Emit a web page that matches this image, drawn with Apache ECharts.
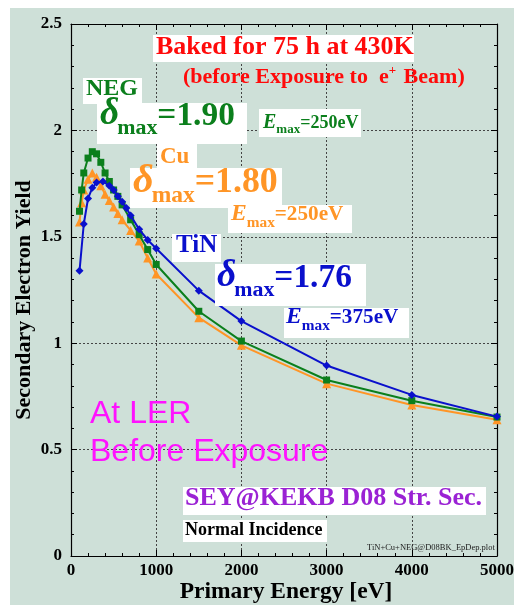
<!DOCTYPE html>
<html>
<head>
<meta charset="utf-8">
<script src="https://cdn.jsdelivr.net/npm/echarts@6/dist/echarts.min.js"></script>
<style>
  html, body { margin: 0; padding: 0; background: #ffffff; }
  #chart { width: 514px; height: 605px; }
</style>
</head>
<body>
<div id="chart"></div>
<script>
// Secondary electron yield vs. primary energy, three wall coatings (normal incidence)
const negEnergy = [100, 125, 150, 200, 250, 300, 350, 400, 450, 500, 550, 600, 700, 800, 900, 1000, 1500, 2000, 3000, 4000, 5000];
const negYield  = [1.62, 1.72, 1.80, 1.87, 1.90, 1.89, 1.85, 1.80, 1.76, 1.72, 1.69, 1.65, 1.58, 1.51, 1.44, 1.37, 1.15, 1.01, 0.827, 0.73, 0.653];

const cuEnergy = [100, 125, 150, 200, 250, 300, 350, 400, 450, 500, 550, 600, 700, 800, 900, 1000, 1500, 2000, 3000, 4000, 5000];
const cuYield  = [1.57, 1.66, 1.72, 1.77, 1.80, 1.78, 1.74, 1.70, 1.67, 1.64, 1.61, 1.58, 1.53, 1.48, 1.40, 1.325, 1.12, 0.99, 0.81, 0.71, 0.64];

const tinEnergy = [100, 150, 200, 250, 300, 375, 450, 500, 550, 600, 650, 700, 800, 900, 1000, 1500, 2000, 3000, 4000, 5000];
const tinYield  = [1.34, 1.56, 1.68, 1.73, 1.755, 1.76, 1.74, 1.72, 1.69, 1.665, 1.635, 1.60, 1.535, 1.485, 1.445, 1.247, 1.104, 0.895, 0.757, 0.655];

const xTicks = [0, 1000, 2000, 3000, 4000, 5000];
const yTicks = [0, 0.5, 1, 1.5, 2, 2.5];

const GREEN = '#0b7f1c', ORANGE = '#ff9526', BLUE = '#0a10cc';
const SERIF = '"Liberation Serif", "DejaVu Serif", serif';

const pairs = (xs, ys) => xs.map((x, i) => [x, ys[i]]);

// text runs laid out left to right on a shared baseline
const meas = document.createElement('canvas').getContext('2d');
function runs(x, base, parts) {
  let cx = x;
  const out = [];
  parts.forEach(p => {
    const font = p.font;
    meas.font = font;
    const size = parseFloat(font.match(/(\d+(\.\d+)?)px/)[1]);
    out.push({
      type: 'text', z: 100, silent: true,
      x: cx, y: base + (p.dy || 0) - size * 0.33,
      style: { text: p.t, font: font, fill: p.fill, verticalAlign: 'middle', align: 'left' }
    });
    cx += meas.measureText(p.t).width + (p.gap || 0);
  });
  return out;
}
function box(x1, y1, x2, y2) {
  return { type: 'rect', z: 90, silent: true, shape: { x: x1, y: y1, width: x2 - x1, height: y2 - y1 }, style: { fill: '#ffffff' } };
}
function deltaMax(x, base, value, color, s) {
  return runs(x, base, [
    { t: 'δ', font: 'italic bold ' + (36 * s).toFixed(1) + 'px ' + SERIF, fill: color, gap: -2 },
    { t: 'max', font: 'bold ' + (21 * s).toFixed(1) + 'px ' + SERIF, fill: color, dy: 8 * s },
    { t: '=' + value, font: 'bold ' + (32 * s).toFixed(1) + 'px ' + SERIF, fill: color }
  ]);
}
function eMax(x, base, value, color, s) {
  return runs(x, base, [
    { t: 'E', font: 'italic bold ' + (20 * s).toFixed(1) + 'px ' + SERIF, fill: color },
    { t: 'max', font: 'bold ' + (13 * s).toFixed(1) + 'px ' + SERIF, fill: color, dy: 5 * s },
    { t: '=' + value, font: 'bold ' + (18 * s).toFixed(1) + 'px ' + SERIF, fill: color }
  ]);
}

const graphics = [
  // page background
  { type: 'rect', z: -10, silent: true, shape: { x: 10, y: 8, width: 504, height: 597 }, style: { fill: '#cee0d8' } },

  box(153, 35, 414, 62),
  ...runs(156, 56, [{ t: 'Baked for 75 h at 430K', font: 'bold 26px ' + SERIF, fill: '#ff0a0a' }]),
  ...runs(183, 85, [
    { t: '(before Exposure to  e', font: 'bold 22px ' + SERIF, fill: '#ff0a0a' },
    { t: '+', font: 'bold 13px ' + SERIF, fill: '#ff0a0a', dy: -10, gap: 2 },
    { t: ' Beam)', font: 'bold 22px ' + SERIF, fill: '#ff0a0a' }
  ]),

  box(83, 78, 142, 104),
  ...runs(86, 97, [{ t: 'NEG', font: 'bold 24px ' + SERIF, fill: GREEN }]),
  box(97, 103, 247, 144),
  ...deltaMax(100, 127, '1.90', GREEN, 1.045),
  box(259, 109, 361, 137),
  ...eMax(263, 129, '250eV', GREEN, 1),

  box(157, 143, 197, 168),
  ...runs(160, 165, [{ t: 'Cu', font: 'bold 23px ' + SERIF, fill: ORANGE }]),
  box(130, 168, 282, 208),
  ...deltaMax(133, 195, '1.80', ORANGE, 1.12),
  box(228, 205, 352, 233),
  ...eMax(231, 222, '250eV', ORANGE, 1.18),

  box(172, 234, 221, 262),
  ...runs(176, 254, [{ t: 'TiN', font: 'bold 25px ' + SERIF, fill: BLUE }]),
  box(215, 264, 366, 306),
  ...deltaMax(217, 289, '1.76', BLUE, 1.045),
  box(284, 308, 409, 338),
  ...eMax(286, 325, '375eV', BLUE, 1.18),

  ...runs(90, 425, [{ t: 'At LER', font: '32px "Liberation Sans", Arial, sans-serif', fill: '#ff12ff' }]),
  ...runs(90, 463, [{ t: 'Before Exposure', font: '32px "Liberation Sans", Arial, sans-serif', fill: '#ff12ff' }]),

  box(183, 487, 486, 515),
  ...runs(185, 507, [{ t: 'SEY@KEKB D08 Str. Sec.', font: 'bold 26px ' + SERIF, fill: '#9a22d4' }]),
  box(183, 520, 327, 542),
  ...runs(185, 536, [{ t: 'Normal Incidence', font: 'bold 18px ' + SERIF, fill: '#000000' }]),
  ...runs(367, 551, [{ t: 'TiN+Cu+NEG@D08BK_EpDep.plot', font: '8.5px ' + SERIF, fill: '#222222' }]),

  // axis titles
  {
    type: 'text', z: 100, silent: true, x: 286, y: 600 - 23.5 * 0.33,
    style: { text: 'Primary Energy [eV]', font: 'bold 23.5px ' + SERIF, fill: '#000', align: 'center', verticalAlign: 'middle' }
  },
  {
    type: 'text', z: 100, silent: true, x: 24, y: 300, rotation: Math.PI / 2,
    style: { text: 'Secondary Electron Yield', font: 'bold 22px ' + SERIF, fill: '#000', align: 'center', verticalAlign: 'middle' }
  }
];

const tickLabel = { fontFamily: SERIF, fontWeight: 'bold', fontSize: 17, color: '#000', formatter: v => String(v) };
const axisLine = { show: true, onZero: false, lineStyle: { color: '#000', width: 1.2 } };
const splitLine = { show: true, lineStyle: { color: '#444', type: [2, 2], width: 1 } };

const chart = echarts.init(document.getElementById('chart'), null, { renderer: 'canvas' });
chart.setOption({
  animation: false,
  backgroundColor: 'transparent',
  grid: { left: 71, top: 24, right: 17, bottom: 49, outerBoundsMode: 'none' },
  xAxis: [
    {
      type: 'value', min: xTicks[0], max: xTicks[xTicks.length - 1], interval: 1000,
      axisLine, splitLine,
      axisTick: { inside: true, length: 6, lineStyle: { color: '#000' } },
      minorTick: { show: true, splitNumber: 5, length: 3, lineStyle: { color: '#000' } },
      axisLabel: { ...tickLabel, margin: 6 }
    },
    {
      type: 'value', position: 'top', min: 0, max: 5000, interval: 1000,
      axisLine, splitLine: { show: false },
      axisTick: { inside: true, length: 6, lineStyle: { color: '#000' } },
      minorTick: { show: true, splitNumber: 5, length: 3, lineStyle: { color: '#000' } },
      axisLabel: { show: false }
    }
  ],
  yAxis: [
    {
      type: 'value', min: yTicks[0], max: yTicks[yTicks.length - 1], interval: 0.5,
      axisLine, splitLine,
      axisTick: { inside: true, length: 6, lineStyle: { color: '#000' } },
      minorTick: { show: true, splitNumber: 5, length: 3, lineStyle: { color: '#000' } },
      axisLabel: { ...tickLabel, margin: 9 }
    },
    {
      type: 'value', position: 'right', min: 0, max: 2.5, interval: 0.5,
      axisLine, splitLine: { show: false },
      axisTick: { inside: true, length: 6, lineStyle: { color: '#000' } },
      minorTick: { show: true, splitNumber: 5, length: 3, lineStyle: { color: '#000' } },
      axisLabel: { show: false }
    }
  ],
  series: [
    {
      name: 'Cu', type: 'line', data: pairs(cuEnergy, cuYield), z: 3,
      symbol: 'triangle', symbolSize: 9, showAllSymbol: true,
      lineStyle: { color: ORANGE, width: 2 }, itemStyle: { color: ORANGE }
    },
    {
      name: 'NEG', type: 'line', data: pairs(negEnergy, negYield), z: 4,
      symbol: 'rect', symbolSize: 7, showAllSymbol: true,
      lineStyle: { color: GREEN, width: 2 }, itemStyle: { color: GREEN }
    },
    {
      name: 'TiN', type: 'line', data: pairs(tinEnergy, tinYield), z: 5,
      symbol: 'diamond', symbolSize: 8, showAllSymbol: true,
      lineStyle: { color: BLUE, width: 2 }, itemStyle: { color: BLUE }
    }
  ],
  graphic: graphics
});
</script>
</body>
</html>
